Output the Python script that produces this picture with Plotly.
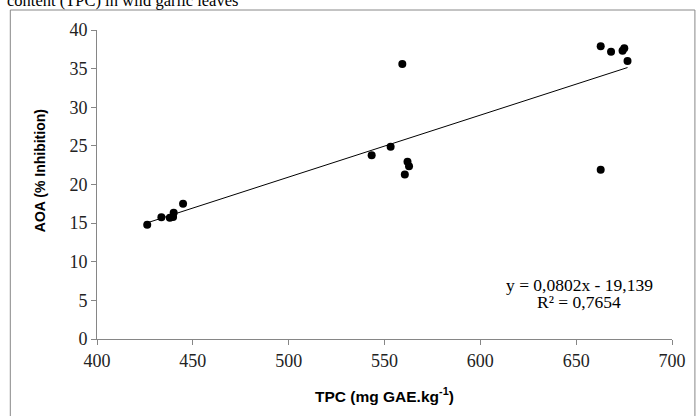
import plotly.graph_objects as go

# Data
tpc = [426.2, 433.6, 438.0, 439.7, 440.0, 444.9,
       543.3, 553.2, 559.3, 560.6, 562.0, 562.8,
       662.8, 668.2, 674.2, 675.1, 676.8, 662.8]
aoa = [14.8, 15.75, 15.7, 15.8, 16.35, 17.5,
       23.8, 24.9, 35.6, 21.3, 22.95, 22.35,
       37.9, 37.2, 37.3, 37.65, 36.0, 21.9]

slope = 0.0802
intercept = -19.139
trend_x = [min(tpc), max(tpc)]
trend_y = [slope * v + intercept for v in trend_x]

x_ticks = [400, 450, 500, 550, 600, 650, 700]
y_ticks = [0, 5, 10, 15, 20, 25, 30, 35, 40]

W, H = 698, 416
L, R, T, B = 97, 24, 30, 77
pw, ph = W - L - R, H - T - B

def px(xp):
    return (xp - L) / pw

def py(yp):
    return (H - B - yp) / ph

fig = go.Figure()
fig.add_trace(go.Scatter(x=trend_x, y=trend_y, mode="lines",
                         line=dict(color="black", width=1), hoverinfo="skip"))
fig.add_trace(go.Scatter(x=tpc, y=aoa, mode="markers",
                         marker=dict(color="black", size=8)))

serif = "Liberation Serif, Times New Roman, serif"
sans = "Liberation Sans, Arial, sans-serif"

fig.update_layout(
    width=W, height=H,
    margin=dict(l=L, r=R, t=T, b=B),
    paper_bgcolor="white", plot_bgcolor="white",
    showlegend=False,
    xaxis=dict(range=[400, 700], tickvals=x_ticks, ticktext=[str(v) for v in x_ticks],
               showgrid=False, zeroline=False, showline=True, linecolor="#868686",
               linewidth=1, ticks="outside", ticklen=5, tickcolor="#868686",
               tickfont=dict(family=serif, size=18, color="#222")),
    yaxis=dict(range=[0, 40], tickvals=y_ticks, ticktext=[str(v) for v in y_ticks],
               showgrid=False, zeroline=False, showline=True, linecolor="#868686",
               linewidth=1, ticks="outside", ticklen=5, tickcolor="#868686",
               tickfont=dict(family=serif, size=18, color="#222")),
    shapes=[dict(type="rect", xref="paper", yref="paper",
                 x0=px(10), x1=px(697), y0=py(425), y1=py(10),
                 line=dict(color="#888888", width=1), fillcolor="rgba(0,0,0,0)",
                 layer="below")],
    annotations=[
        dict(text="content (TPC) in wild garlic leaves", xref="paper", yref="paper",
             x=px(5), y=py(1), xanchor="left", yanchor="middle", showarrow=False,
             font=dict(family=serif, size=16.5, color="black")),
        dict(text="<b>AOA (% Inhibition)</b>", xref="paper", yref="paper",
             x=px(40), y=py(171), xanchor="center", yanchor="middle", textangle=-90,
             showarrow=False, font=dict(family=sans, size=14, color="black")),
        dict(text="<b>TPC (mg GAE.kg<sup>-1</sup>)</b>", xref="paper", yref="paper",
             x=px(386), y=py(395), xanchor="center", yanchor="middle",
             showarrow=False, font=dict(family=sans, size=15.5, color="black")),
        dict(text="y = 0,0802x - 19,139", xref="paper", yref="paper",
             x=px(581), y=py(285), xanchor="center", yanchor="middle",
             showarrow=False, font=dict(family=serif, size=17.5, color="black")),
        dict(text="R² = 0,7654", xref="paper", yref="paper",
             x=px(581), y=py(302), xanchor="center", yanchor="middle",
             showarrow=False, font=dict(family=serif, size=17.5, color="black")),
    ],
)

fig.write_html("out.html", config={"displayModeBar": False},
               post_script="document.body.style.margin='0';document.body.style.overflow='hidden';")
